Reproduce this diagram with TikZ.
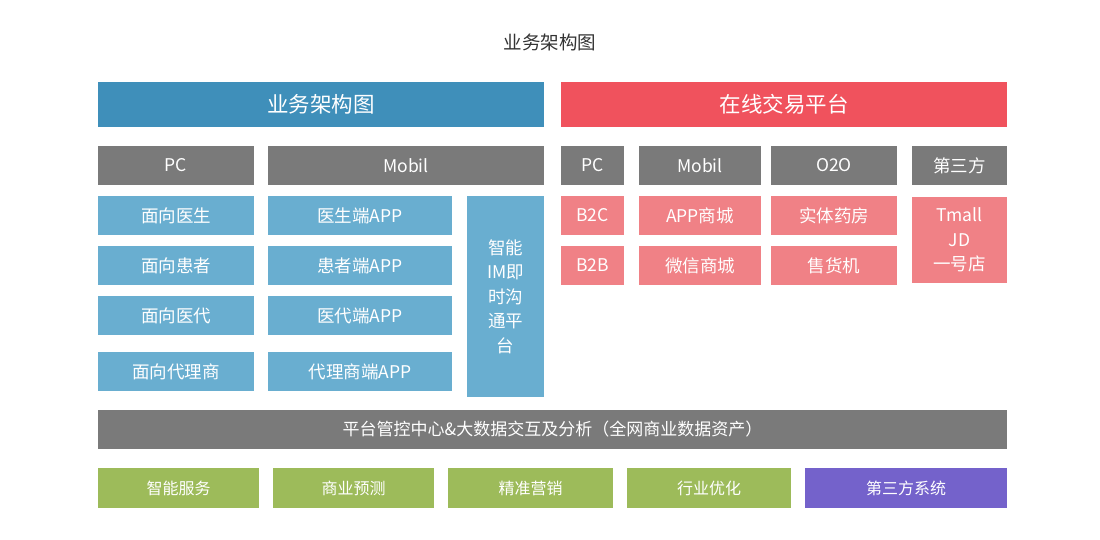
\documentclass[tikz,border=0pt]{standalone}
\usepackage{fontspec}
\setmainfont{Noto Sans CJK SC}
\definecolor{blueD}{HTML}{3F8FBA}
\definecolor{blueL}{HTML}{69AED0}
\definecolor{redD}{HTML}{F0525D}
\definecolor{redL}{HTML}{F08186}
\definecolor{grayC}{HTML}{7A7A7A}
\definecolor{greenC}{HTML}{9DBB5A}
\definecolor{purpleC}{HTML}{7462CB}
\definecolor{titleC}{HTML}{333333}
\tikzset{
  cell/.style={inner sep=0pt, text=white, align=center, font=\fontsize{17.5}{24.5}\selectfont},
  hbar/.style={cell, minimum height=45pt, font=\fontsize{21.5}{26}\selectfont},
  hdr/.style={cell, fill=grayC, minimum height=39pt},
  bl/.style={cell, fill=blueL, minimum height=39pt},
  rl/.style={cell, fill=redL, minimum height=39pt},
  gr/.style={cell, fill=greenC, minimum height=40pt, font=\fontsize{16}{20}\selectfont},
}
\begin{document}
\begin{tikzpicture}[x=1pt,y=-1pt]
\useasboundingbox (0,0) rectangle (1100,539);
\fill[white] (0,0) rectangle (1100,539);
\node[text=titleC, font=\fontsize{18.5}{22}\selectfont, inner sep=0pt] (title) at (550,42) {业务架构图};
% top bars
\node[hbar, fill=blueD, minimum width=446pt] (bbar) at (321,104.5) {业务架构图};
\node[hbar, fill=redD, minimum width=446pt] (rbar) at (784,104.5) {在线交易平台};
% headers
\node[hdr, minimum width=156pt] (pc1) at (176,165.5) {PC};
\node[hdr, minimum width=276pt] (mob1) at (406,165.5) {Mobil};
\node[hdr, minimum width=63pt] (pc2) at (592.5,165.5) {PC};
\node[hdr, minimum width=122pt] (mob2) at (700,165.5) {Mobil};
\node[hdr, minimum width=126pt] (o2o) at (834,165.5) {O2O};
\node[hdr, minimum width=95pt] (third) at (959.5,165.5) {第三方};
% left blue cells
\node[bl, minimum width=156pt] (l1) at (176,215.5) {面向医生};
\node[bl, minimum width=156pt] (l2) at (176,265.5) {面向患者};
\node[bl, minimum width=156pt] (l3) at (176,315.5) {面向医代};
\node[bl, minimum width=156pt] (l4) at (176,371.5) {面向代理商};
\node[bl, minimum width=184pt] (a1) at (360,215.5) {医生端APP};
\node[bl, minimum width=184pt] (a2) at (360,265.5) {患者端APP};
\node[bl, minimum width=184pt] (a3) at (360,315.5) {医代端APP};
\node[bl, minimum width=184pt] (a4) at (360,371.5) {代理商端APP};
\node[bl, minimum width=77pt, minimum height=201pt] (im) at (505.5,296.5) {智能\\IM即\\时沟\\通平\\台};
% red cells
\node[rl, minimum width=63pt] (b2c) at (592.5,215.5) {B2C};
\node[rl, minimum width=63pt] (b2b) at (592.5,265.5) {B2B};
\node[rl, minimum width=122pt] (appm) at (700,215.5) {APP商城};
\node[rl, minimum width=122pt] (wx) at (700,265.5) {微信商城};
\node[rl, minimum width=126pt] (yf) at (834,215.5) {实体药房};
\node[rl, minimum width=126pt] (shj) at (834,265.5) {售货机};
\node[rl, minimum width=95pt, minimum height=86pt] (tm) at (959.5,240) {Tmall\\JD\\一号店};
% platform bar
\node[hdr, minimum width=909pt, font=\fontsize{17}{22}\selectfont] (plat) at (552.5,429.5) {平台管控中心\&大数据交互及分析（全网商业数据资产）};
% bottom row
\node[gr, minimum width=161pt] (g1) at (178.5,488) {智能服务};
\node[gr, minimum width=161pt] (g2) at (353.5,488) {商业预测};
\node[gr, minimum width=165pt] (g3) at (530.5,488) {精准营销};
\node[gr, minimum width=164pt] (g4) at (709,488) {行业优化};
\node[gr, fill=purpleC, minimum width=202pt] (g5) at (906,488) {第三方系统};
\end{tikzpicture}
\end{document}
